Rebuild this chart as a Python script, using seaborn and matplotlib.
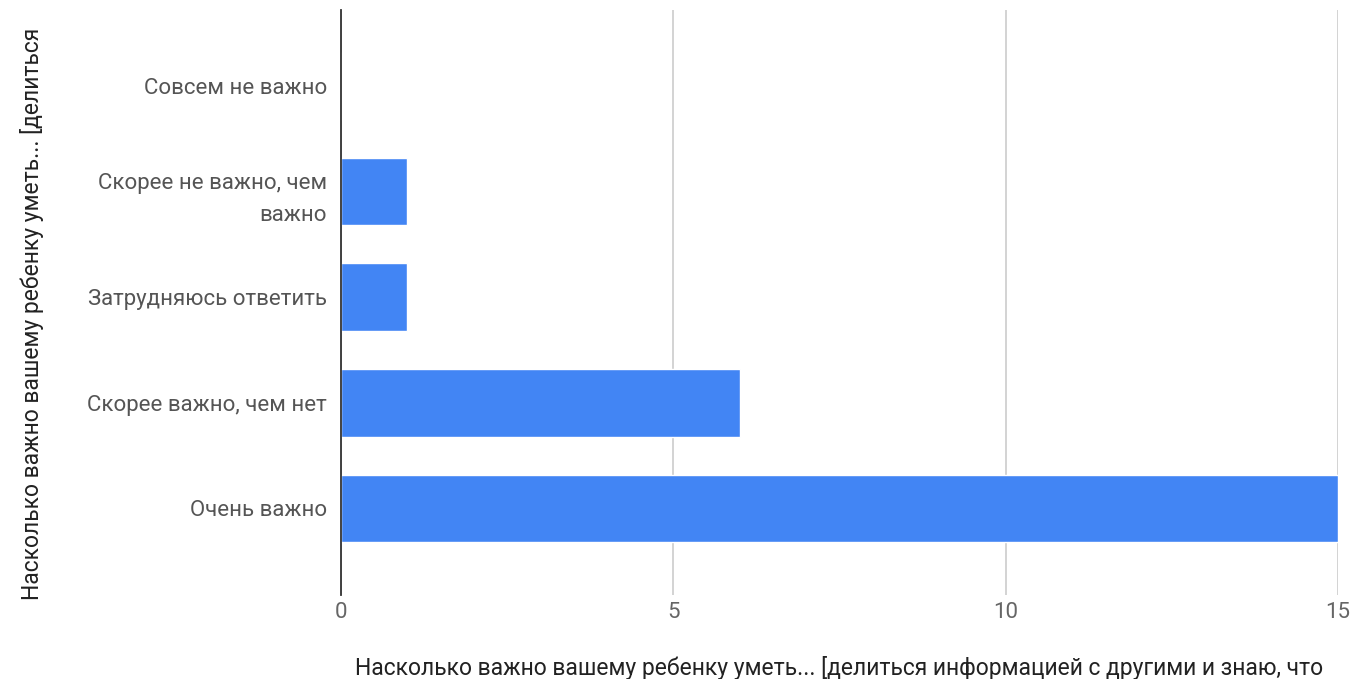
import numpy as np
import pandas as pd
import matplotlib
matplotlib.use('Agg')
import matplotlib.pyplot as plt
import seaborn as sns

# данные опроса
otvety = ['Совсем не важно', 'Скорее не важно, чем\nважно', 'Затрудняюсь ответить',
          'Скорее важно, чем нет', 'Очень важно']
kolichestvo = [0, 1, 1, 6, 15]
x_ticks = [0, 5, 10, 15]

df = pd.DataFrame({'otvet': otvety, 'n': kolichestvo})

sns.set_style('white')
plt.rcParams['font.family'] = ['Roboto', 'DejaVu Sans']

fig = plt.figure(figsize=(13.52, 6.79), dpi=100)
ax = fig.add_axes([0.2522, 0.1237, 0.7374, 0.8616])

sns.barplot(data=df, x='n', y='otvet', orient='h', color='#4285F4',
            saturation=1, width=0.64, ax=ax)

ax.set_xlim(0, 15)
ax.set_ylim(4.82, -0.72)
ax.set_xticks(x_ticks)
ax.xaxis.grid(True, color='#cccccc', linewidth=1.2)
ax.set_axisbelow(True)
for s in ['top', 'right', 'bottom']:
    ax.spines[s].set_visible(False)
ax.spines['left'].set_color('#333333')
ax.spines['left'].set_linewidth(1.3)
ax.spines['left'].set_zorder(5)

ax.tick_params(axis='x', length=0, pad=5, labelsize=16, labelcolor='#666666')
ax.tick_params(axis='y', length=0, pad=10, labelsize=16, labelcolor='#555555')
for t in ax.get_yticklabels():
    t.set_linespacing(1.65)

ax.set_xlabel('Насколько важно вашему ребенку уметь... [делиться информацией с другими и знаю, что',
              fontsize=16.5, color='#222222', labelpad=24)
ax.set_ylabel('Насколько важно вашему ребенку уметь... [делиться',
              fontsize=16.5, color='#222222')
ax.yaxis.set_label_coords(-0.298, 0.48)

plt.savefig('out.png', dpi=100)
